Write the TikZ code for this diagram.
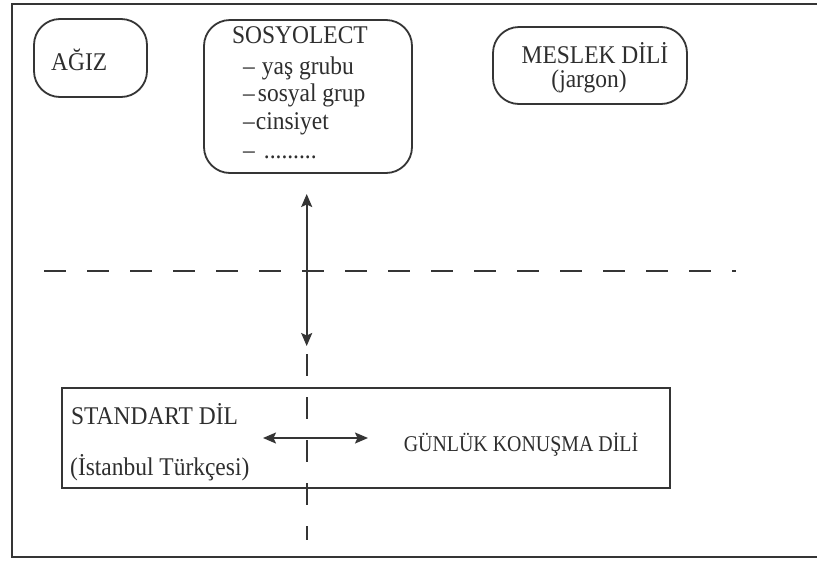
\documentclass[tikz,border=0pt]{standalone}
\usepackage{fontspec}
\setmainfont[FakeStretch=0.92]{Liberation Serif}
\newfontfamily\narrowfont[FakeStretch=0.885]{Liberation Serif}
\usetikzlibrary{arrows.meta}
\definecolor{ink}{HTML}{353535}
\definecolor{txt}{HTML}{2E2E2E}
\begin{document}
\begin{tikzpicture}[x=1pt,y=-1pt,
  frame/.style={draw=ink, line width=2pt},
  rbox/.style={draw=ink, line width=1.8pt, rounded corners=26pt, inner sep=0pt},
  sbox/.style={draw=ink, line width=1.8pt, inner sep=0pt},
  lbl/.style={text=txt, font=\fontsize{25.5}{30}\selectfont, inner sep=0pt},
  sml/.style={text=txt, font=\narrowfont\fontsize{22.5}{27}\selectfont, inner sep=0pt},
  arr/.style={draw=ink, line width=1.7pt, {Stealth[length=13pt,width=11pt,inset=2.5pt]}-{Stealth[length=13pt,width=11pt,inset=2.5pt]}},
  dsh/.style={draw=ink, line width=1.7pt, dash pattern=on 22pt off 21pt}]
\useasboundingbox (0,0) rectangle (817,563);
\fill[white] (0,0) rectangle (817,563);

% outer frame (right side not shown)
\draw[frame] (817,3.5) -- (11.5,3.5) -- (11.5,557) -- (817,557);

% AGIZ
\node[rbox, minimum width=113pt, minimum height=78pt] (agizbox) at (90.5,58) {};
\node[lbl, anchor=base west] (agiz) at (51,70) {AĞIZ};

% SOSYOLECT
\node[rbox, minimum width=208pt, minimum height=153pt] (sosbox) at (308,96.5) {};
\node[lbl, anchor=base west] (sos) at (232,43) {SOSYOLECT};
\node[lbl, anchor=base west] (s1) at (243,74) {–\hspace{7pt}yaş grubu};
\node[lbl, anchor=base west] (s2) at (243,101) {–\hspace{3pt}sosyal grup};
\node[lbl, anchor=base west] (s3) at (243,129) {–\hspace{1pt}cinsiyet};
\node[lbl, anchor=base west] (s4) at (243,158) {–\hspace{9pt}.........};

% MESLEK DILI
\node[rbox, minimum width=194pt, minimum height=77pt] (meslekbox) at (590,65.5) {};
\node[lbl, anchor=base] (meslek) at (595,63) {MESLEK DİLİ};
\node[lbl, anchor=base] (jargon) at (589,87) {(jargon)};

% STANDART box
\node[sbox, minimum width=608pt, minimum height=100pt] (stdbox) at (366,438) {};
\node[lbl, anchor=base west] (std) at (71,424) {STANDART DİL};
\node[lbl, anchor=base west] (ist) at (70,475) {(İstanbul Türkçesi)};
\node[sml, anchor=base] (gunluk) at (521,451) {GÜNLÜK KONUŞMA DİLİ};

% horizontal dashed divider
\coordinate (h1) at (44,270.7);
\coordinate (h2) at (736,270.7);
\draw[dsh] (h1) -- (h2);

% vertical arrow
\coordinate (vt) at (306.7,194);
\coordinate (vb) at (306.7,346);
\draw[arr] (vt) -- (vb);

% vertical dashed continuation
\coordinate (d1) at (306.7,354);
\coordinate (d2) at (306.7,540);
\draw[dsh] (d1) -- (d2);

% horizontal arrow
\coordinate (hl) at (263,438);
\coordinate (hr) at (368,438);
\draw[arr] (hl) -- (hr);
\end{tikzpicture}
\end{document}
